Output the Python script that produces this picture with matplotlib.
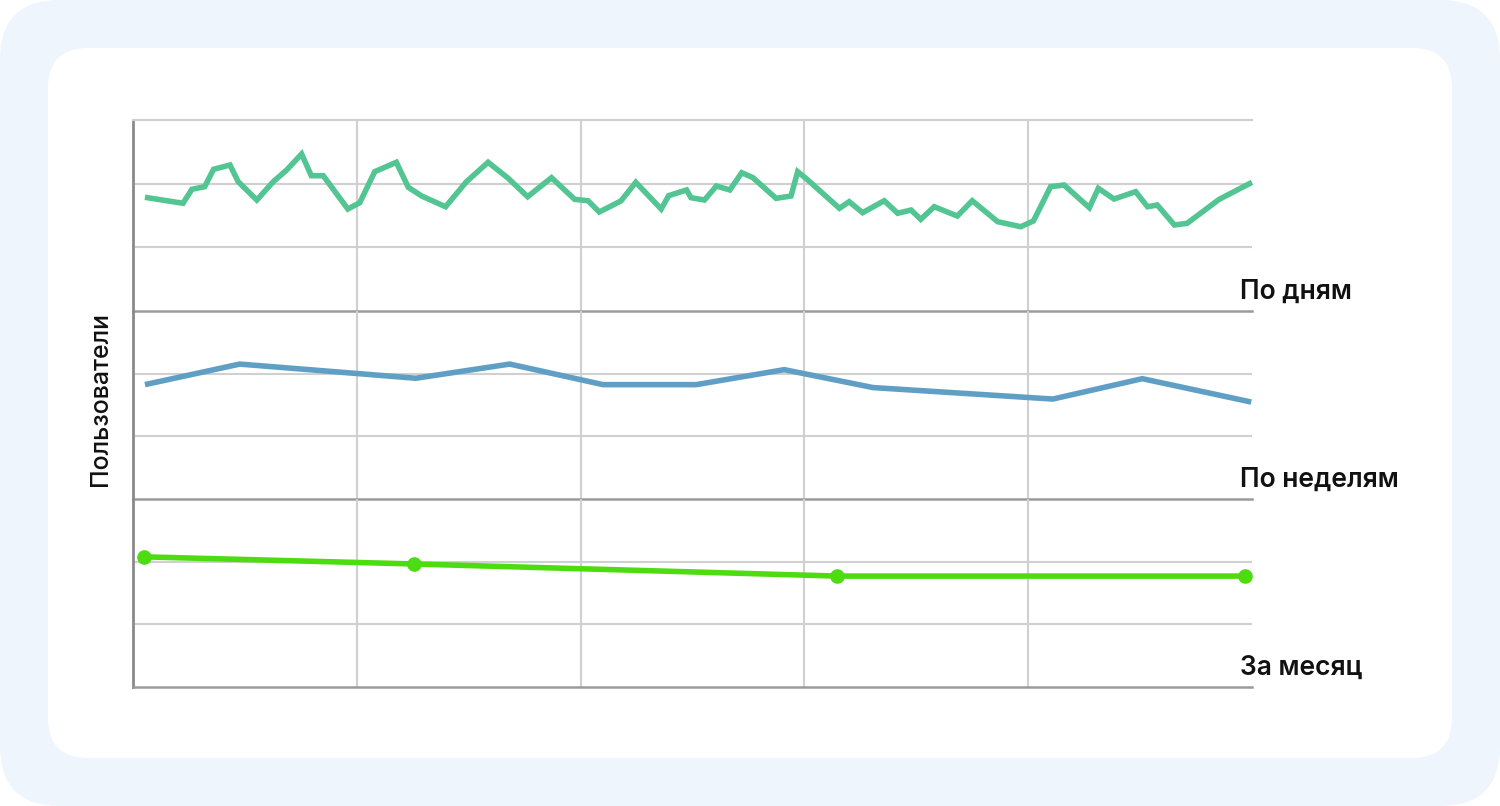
import matplotlib.pyplot as plt
from matplotlib.patches import FancyBboxPatch

# daily users (x in days, y in relative units, each panel 0..300)
day_x = [1.6, 6.7, 7.9, 9.6, 10.8, 13.0, 14.1, 16.6, 18.8, 20.6, 22.6, 23.9, 25.5, 28.8,
         30.4, 32.4, 35.3, 36.9, 38.7, 41.9, 44.7, 47.6, 50.3, 52.9, 56.1, 59.2, 61.0,
         62.5, 65.4, 67.4, 70.8, 71.8, 74.2, 74.8, 76.6, 78.2, 80.0, 81.6, 83.1, 86.2,
         88.2, 89.1, 90.2, 94.7, 96.0, 97.8, 100.7, 102.5, 104.3, 105.6, 107.4, 110.5,
         112.5, 115.9, 119.0, 120.7, 123.0, 124.8, 128.2, 129.4, 131.5, 134.4, 136.0,
         137.3, 139.6, 141.3, 145.6, 150.0]
day_y = [178.6, 169.2, 191.2, 195.2, 222.6, 229.3, 203.1, 174.3, 203.1, 221.5, 246.6,
         212.5, 212.5, 160.2, 170.1, 218.8, 233.6, 194.3, 180.6, 163.8, 203.1, 233.6,
         208.4, 179.5, 209.4, 175.4, 173.2, 155.5, 172.8, 202.1, 160.2, 181.1, 190.1,
         178.0, 174.3, 196.3, 190.1, 217.2, 209.4, 177.0, 180.6, 218.8, 208.4, 161.3,
         171.7, 154.4, 173.2, 153.5, 158.6, 144.0, 163.8, 149.2, 173.2, 140.3, 132.4,
         141.4, 195.2, 197.9, 162.3, 192.7, 175.9, 187.4, 163.8, 166.5, 135.1, 137.7,
         175.4, 202.1]

week_x = [1.6, 14.3, 37.9, 50.5, 63.0, 75.5, 87.3, 99.2, 123.3, 135.3, 149.9]
week_y = [182.5, 215.3, 192.7, 215.3, 182.5, 182.5, 206.4, 177.8, 159.5, 192.0, 154.7]

month_x = [1.5, 37.7, 94.4, 149.0]
month_y = [207.7, 196.3, 177.0, 177.0]

labels = ['По дням', 'По неделям', 'За месяц']
colors = ['#52c592', '#5f9fc5', '#4cdc10']

W, H = 1500, 806
fig = plt.figure(figsize=(W / 100, H / 100), dpi=100)
fig.patch.set_facecolor('white')

# background cards
bg = fig.add_axes([0, 0, 1, 1])
bg.set_xlim(0, W)
bg.set_ylim(H, 0)
bg.axis('off')
bg.add_patch(FancyBboxPatch((0, 0), W, H, boxstyle='round,pad=0,rounding_size=60',
                            fc='#eef5fc', ec='none'))
bg.add_patch(FancyBboxPatch((48, 48), W - 96, H - 96, boxstyle='round,pad=0,rounding_size=40',
                            fc='white', ec='none'))

left, right = 133, 1252
panels = [(120, 311), (311, 499), (499, 687)]
series = [(day_x, day_y, False), (week_x, week_y, False), (month_x, month_y, True)]

for i, ((top, bottom), (xs, ys, markers)) in enumerate(zip(panels, series)):
    ax = fig.add_axes([left / W, 1 - bottom / H, (right - left) / W, (bottom - top) / H])
    ax.set_facecolor('none')
    ax.set_xlim(0, 150)
    ax.set_ylim(0, 300)
    ax.set_xticks([30, 60, 90, 120])
    ax.set_yticks([100, 200])
    ax.grid(True, color='#d0d0d0', linewidth=1.5)
    ax.tick_params(length=0, labelleft=False, labelbottom=False)
    for s in ['top', 'right']:
        ax.spines[s].set_visible(False)
    if i == 0:
        ax.spines['top'].set_visible(True)
        ax.spines['top'].set_color('#d0d0d0')
        ax.spines['top'].set_linewidth(1.5)
    ax.spines['left'].set_color('#8a8a8a')
    ax.spines['left'].set_linewidth(2)
    ax.spines['bottom'].set_color('#9a9a9a')
    ax.spines['bottom'].set_linewidth(1.8)
    if markers:
        ax.plot(xs, ys, color=colors[i], linewidth=4.0, marker='o', markersize=9.5,
                solid_capstyle='butt', clip_on=False, zorder=3)
    else:
        ax.plot(xs, ys, color=colors[i], linewidth=4.0, solid_joinstyle='miter',
                solid_capstyle='butt', clip_on=False, zorder=3)
    fig.text(1240 / W, 1 - (bottom - 19) / H, labels[i], fontsize=19, family='Inter',
             weight='semibold', va='center', ha='left', color='#111111')

fig.text(101 / W, 1 - 399 / H, 'Пользователи', rotation=90, fontsize=18, family='Inter',
         weight='medium', va='center', ha='center', color='#111111')

plt.savefig('out.png', dpi=100)
